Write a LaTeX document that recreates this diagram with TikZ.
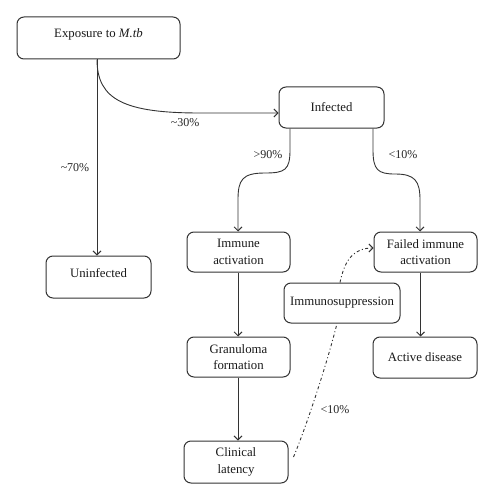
\documentclass[tikz,border=0pt]{standalone}
\usepackage{fontspec}
\setmainfont{Liberation Serif}
\usetikzlibrary{arrows.meta,calc}
\begin{document}
\begin{tikzpicture}[x=1pt,y=-1pt,
 box/.style={draw=black!80, line width=1pt, rounded corners=7pt, align=center, inner sep=0pt, font=\fontsize{12.8}{16.5}\selectfont, text=black!90},
 up/.style={text depth=9pt},
 conn/.style={draw=black!80, line width=0.9pt, -{Straight Barb[length=4pt,width=8pt]}},
 lbl/.style={font=\fontsize{12}{14}\selectfont, text=black!85},
 dd/.style={conn, dash pattern=on 3pt off 2.5pt on 1pt off 2.5pt}]
\useasboundingbox (0,0) rectangle (495,500);
\node[box, up, minimum width=163pt, minimum height=42pt] (exp) at (98.5,38) {Exposure to \textit{M.tb}};
\node[box, minimum width=105pt, minimum height=41pt] (inf) at (331.5,107.5) {Infected};
\node[box, up, minimum width=105pt, minimum height=42pt] (unin) at (98.5,277) {Uninfected};
\node[box, minimum width=103pt, minimum height=40pt] (imm) at (238.5,252) {Immune\\activation};
\node[box, minimum width=103pt, minimum height=40pt] (fail) at (425.5,252) {Failed immune\\activation};
\node[box, minimum width=116pt, minimum height=40pt] (sup) at (342,303) {Immunosuppression};
\node[box, minimum width=103pt, minimum height=40pt] (gran) at (238.5,357) {Granuloma\\formation};
\node[box, minimum width=104pt, minimum height=41pt] (act) at (425,357.5) {Active disease};
\node[box, minimum width=104pt, minimum height=42pt] (clin) at (236,462) {Clinical\\latency};

\node[lbl] (l30) at (185,123) {\textasciitilde30\%};
\node[lbl] (l70) at (75,168) {\textasciitilde70\%};
\node[lbl] (l90) at (268,155) {>90\%};
\node[lbl] (l10a) at (403,155) {<10\%};
\node[lbl] (l10b) at (335,410) {<10\%};

\draw[conn] ([xshift=-1.5pt]exp.south) -- ([xshift=-1.5pt]exp.south |- unin.north);
\draw[conn] ([xshift=-1.5pt]exp.south) .. controls (97,100) and (125,113) .. (200,113) -- ([yshift=-5.5pt]inf.west);
\draw[conn] ([xshift=-41.5pt]inf.south) -- (290,150) .. controls (290,170) and (285,173) .. (265,173) .. controls (242,173) and (238,180) .. (238,200) -- ([xshift=-0.5pt]imm.north);
\draw[conn] ([xshift=41.5pt]inf.south) -- (373,150) .. controls (373,170) and (378,174) .. (395,174) .. controls (415,174) and (420,181) .. (420,200) -- ([xshift=-5.5pt]fail.north);
\draw[conn] ([xshift=-0.5pt]imm.south) -- ([xshift=-0.5pt]gran.north);
\draw[conn] ([xshift=-0.5pt]gran.south) -- ([xshift=-0.5pt]gran.south |- clin.north);
\draw[conn] ([xshift=-5pt]fail.south) -- ([xshift=-5pt]fail.south |- act.north);
\draw[dd, -] ([shift={(5pt,5pt)}]clin.east) .. controls (307,425) and (328,360) .. ([xshift=-5pt]sup.south);
\draw[dd] ([xshift=-2pt]sup.north) .. controls (345,258) and (355,248) .. ([yshift=4pt]fail.west);
\end{tikzpicture}
\end{document}
